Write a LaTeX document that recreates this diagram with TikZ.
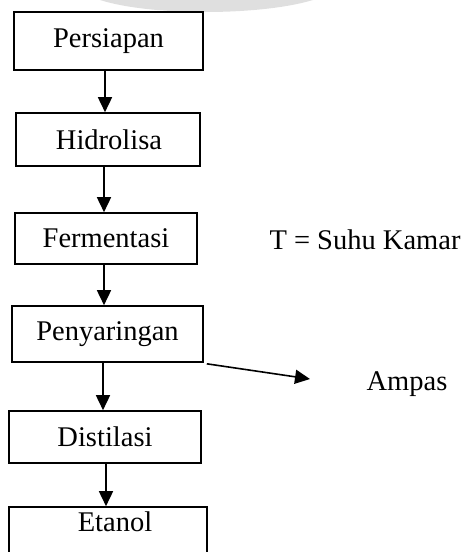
\documentclass[tikz,border=0pt]{standalone}
\usepackage{fontspec}
\setmainfont{Liberation Serif}
\usetikzlibrary{arrows.meta}
\begin{document}
\begin{tikzpicture}[x=1pt,y=-1pt,
  box/.style={draw,line width=1.6pt,rectangle,inner sep=0pt},
  lbl/.style={inner sep=0pt,font=\fontsize{28.5}{34}\selectfont},
  arr/.style={line width=1.6pt,-{Triangle[length=15pt,width=14pt]}}]
\useasboundingbox (0,0) rectangle (468,552);
% faint grey arc at top
\fill[gray!25] (100,0) .. controls (150,16) and (260,16) .. (313,0) -- cycle;
% boxes
\node[box,minimum width=189pt,minimum height=58pt] (e1) at (108.5,41) {};
\node[box,minimum width=184pt,minimum height=53pt] (e2) at (108,139.5) {};
\node[box,minimum width=182pt,minimum height=51pt] (e3) at (106,238.5) {};
\node[box,minimum width=191pt,minimum height=56pt] (e4) at (107.5,334) {};
\node[box,minimum width=192pt,minimum height=52pt] (e5) at (105,437) {};
\node[box,minimum width=198pt,minimum height=76pt] (e6) at (108,545) {};
% labels
\node[lbl] (t1) at (108.5,41) {Persiapan};
\node[lbl] (t2) at (109,139.5) {Hidrolisa};
\node[lbl] (t3) at (106,238.5) {Fermentasi};
\node[lbl] (t4) at (107.5,334) {Penyaringan};
\node[lbl] (t5) at (105,437) {Distilasi};
\node[lbl] (t6) at (115,522) {Etanol};
\node[lbl] (suhu) at (365,240) {T = Suhu Kamar};
\node[lbl] (ampas) at (407,384) {Ampas};
\coordinate (tipA) at (310,379);
% arrows
\draw[arr] ([xshift=-3.5pt]e1.south) -- ([xshift=-3.5pt]e1.south |- e2.north);
\draw[arr] ([xshift=-4pt]e2.south) -- ([xshift=-4pt]e2.south |- e3.north);
\draw[arr] ([xshift=-2pt]e3.south) -- ([xshift=-2pt]e3.south |- e4.north);
\draw[arr] ([xshift=-4.5pt]e4.south) -- ([xshift=-4.5pt]e4.south |- e5.north);
\draw[arr] ([xshift=1pt]e5.south) -- ([xshift=1pt]e5.south |- e6.north);
\draw[arr] ([xshift=3pt,yshift=-1pt]e4.south east) -- (tipA);
\end{tikzpicture}
\end{document}
